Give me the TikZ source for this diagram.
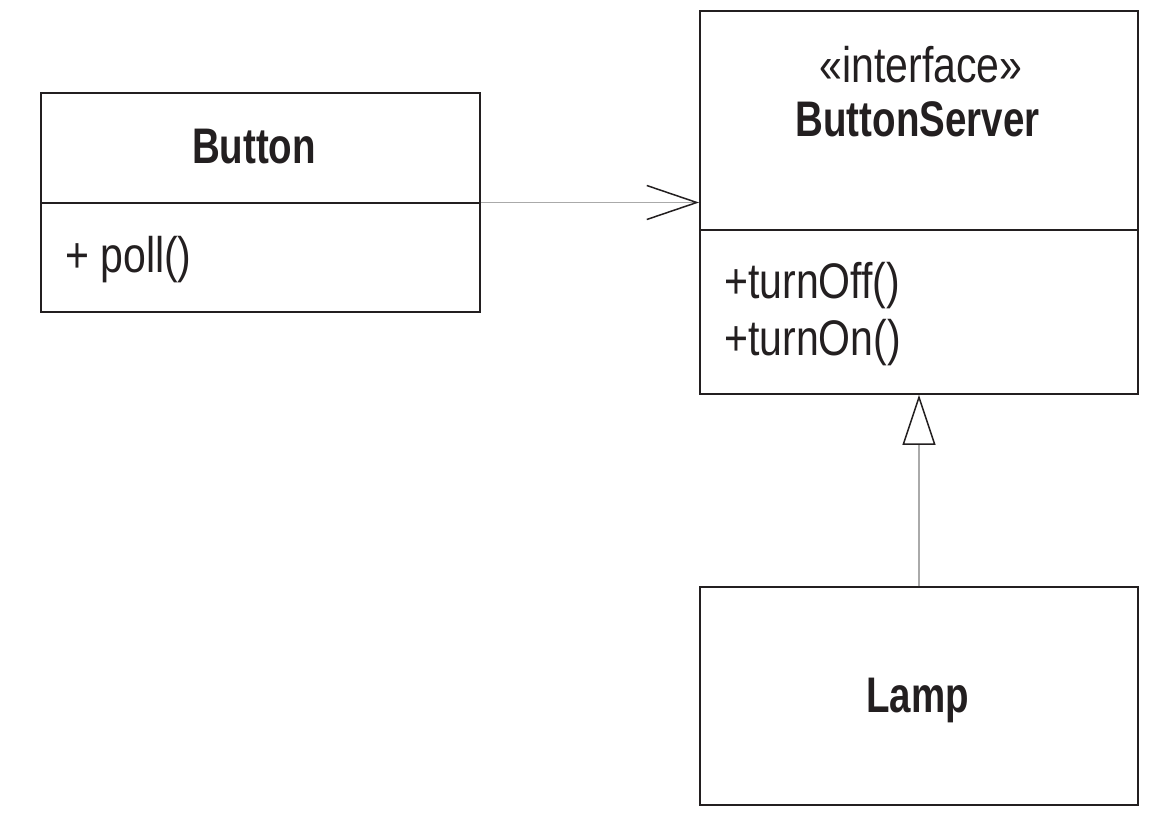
\documentclass[tikz,border=0pt]{standalone}
\usepackage{fontspec}
\setmainfont[FakeStretch=0.82,BoldFeatures={FakeStretch=0.77}]{Liberation Sans}
\usetikzlibrary{arrows.meta}
\definecolor{ink}{HTML}{231F20}
\definecolor{conn}{HTML}{AAAAAA}
\begin{document}
\begin{tikzpicture}[x=1pt,y=-1pt,
  box/.style={draw=ink,line width=1.8pt,rectangle,inner sep=0pt},
  lbl/.style={inner sep=0pt,text=ink,font=\fontsize{50}{60}\selectfont},
  blbl/.style={lbl,font=\fontsize{50}{60}\selectfont\bfseries},
  connline/.style={draw=conn,line width=1.5pt}]
\useasboundingbox (0,0) rectangle (1150,819);
% boxes
\node[box,minimum width=439pt,minimum height=219pt] (button) at (260.5,202.5) {};
\node[box,minimum width=438pt,minimum height=383pt] (server) at (919,202.5) {};
\node[box,minimum width=438pt,minimum height=218pt] (lamp) at (919,696) {};
% dividers
\coordinate (bdl) at (41,203);
\coordinate (bdr) at (480,203);
\draw[draw=ink,line width=1.8pt] (bdl) -- (bdr);
\coordinate (sdl) at (700,230);
\coordinate (sdr) at (1138,230);
\draw[draw=ink,line width=1.8pt] (sdl) -- (sdr);
% texts
\node[blbl,anchor=base] (buttonname) at (254,163) {Button};
\node[lbl,anchor=base west] (poll) at (65,272) {+ poll()};
\node[lbl,anchor=base] (stereo) at (921,82) {«interface»};
\node[blbl,anchor=base] (servername) at (917.5,136) {ButtonServer};
\node[lbl,anchor=base west] (off) at (724,298) {+turnOff()};
\node[lbl,anchor=base west] (on) at (724,355) {+turnOn()};
\node[blbl,anchor=base] (lampname) at (917.5,712) {Lamp};
% connectors
\draw[connline,-{Straight Barb[length=50pt,width=34pt,color=ink,line width=1.5pt]}] (button.east) -- (server.west);
\draw[connline,-{Triangle[open,length=50pt,width=33pt,color=ink,fill=white,line width=1.5pt]}] (lamp.north) -- (server.south);
\end{tikzpicture}
\end{document}
